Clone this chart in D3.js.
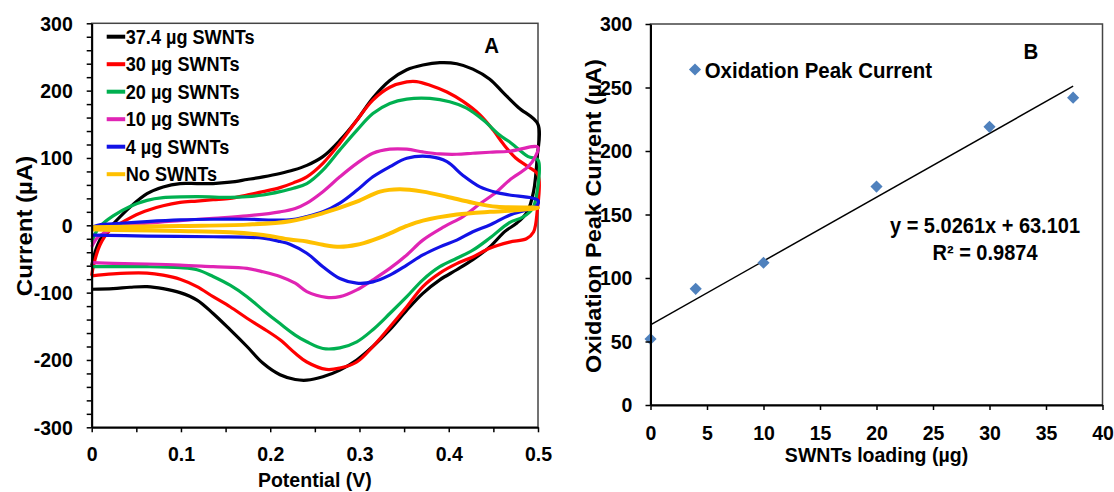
<!DOCTYPE html>
<html>
<head>
<meta charset="utf-8">
<script src="https://cdn.jsdelivr.net/npm/d3@7"></script>
<style>
    body { margin: 0; background: #fff; }
    svg { display: block; font-family: Arial, "Liberation Sans", sans-serif; font-weight: bold; }
</style>
</head>
<body>
<svg id="chart"></svg>
<script>
//CYCLIC VOLTAMMOGRAMS (A) AND PEAK CURRENT VS LOADING (B)

//legend labels and colours, panel A
var cvLabels = ['37.4 µg SWNTs', '30 µg SWNTs', '20 µg SWNTs', '10 µg SWNTs', '4 µg SWNTs', 'No SWNTs'];
var cvColors = ['#000000', '#ff0000', '#00b050', '#e024b4', '#1212e6', '#ffc000'];

//voltammograms, [potential V, current µA], forward scan then reverse scan
var cv374 = [[0,-60],[0.005,-35],[0.012,-15],[0.024,2],[0.043,27],[0.062,47],[0.08,57],[0.099,62],[0.118,62],[0.136,62],
    [0.155,64],[0.174,68],[0.192,72],[0.211,77],[0.226,82],[0.241,89],[0.259,102],[0.278,126],[0.297,156],[0.315,189],
    [0.334,215],[0.353,231],[0.371,238],[0.39,241.5],[0.409,240],[0.427,232],[0.446,217],[0.461,197],[0.478,175],[0.5,150],
    [0.499,100],[0.495,50],[0.488,20],[0.476,3],[0.463,-9],[0.446,-32],[0.427,-51],[0.409,-66],[0.39,-81],[0.371,-101],
    [0.353,-126],[0.334,-155],[0.315,-180],[0.297,-200],[0.278,-215],[0.259,-225],[0.241,-230],[0.228,-229],[0.211,-222],
    [0.192,-205],[0.174,-180],[0.155,-155],[0.136,-131],[0.118,-111],[0.099,-100],[0.08,-94],[0.062,-91],[0.043,-92],
    [0.024,-94],[0,-95]];
var cv30 = [[0,-75],[0.002,-60],[0.009,-30],[0.02,-8],[0.035,5],[0.054,18],[0.08,29],[0.099,34],[0.118,36],[0.136,38],
    [0.155,40],[0.174,45],[0.192,50],[0.211,56],[0.226,63],[0.241,72],[0.259,92],[0.278,122],[0.297,156],[0.315,186],
    [0.334,205],[0.353,213],[0.364,213.5],[0.379,208],[0.398,198],[0.416,184],[0.435,164],[0.45,141],[0.461,121],
    [0.475,100],[0.489,87],[0.5,75],[0.499,20],[0.495,-10],[0.487,-20],[0.468,-25],[0.446,-34],[0.427,-47],[0.409,-57],
    [0.39,-71],[0.371,-91],[0.353,-121],[0.334,-151],[0.315,-180],[0.297,-203],[0.278,-212],[0.263,-214],[0.241,-203],
    [0.228,-190],[0.211,-170],[0.192,-153],[0.174,-138],[0.155,-121],[0.136,-106],[0.118,-91],[0.099,-80],[0.08,-74],
    [0.062,-71],[0.024,-72],[0,-75]];
var cv20 = [[0,-25],[0.004,-12],[0.009,-2],[0.024,14],[0.043,28],[0.062,37],[0.08,41],[0.118,42.5],[0.155,41.5],
    [0.174,42.5],[0.192,45],[0.211,50],[0.226,55],[0.241,62],[0.259,82],[0.278,112],[0.297,141],[0.315,166],[0.334,181],
    [0.353,187.5],[0.379,188.5],[0.401,183.5],[0.42,174],[0.439,156],[0.457,134],[0.468,124],[0.489,102],[0.5,97],
    [0.499,50],[0.494,25],[0.483,12],[0.468,4],[0.446,-19],[0.427,-37],[0.409,-49],[0.39,-61.5],[0.371,-81],[0.353,-106],
    [0.334,-131],[0.315,-155],[0.297,-173],[0.278,-182],[0.259,-183],[0.241,-173],[0.228,-163],[0.211,-146],[0.192,-126],
    [0.174,-106],[0.155,-89],[0.136,-76],[0.118,-66],[0.099,-63],[0.062,-61.5],[0,-61.5]];
var cv10 = [[0,-32],[0.006,-19],[0.017,-9.5],[0.032,-2],[0.062,3],[0.099,7],[0.136,10.5],[0.174,14],[0.211,20],
    [0.228,25],[0.241,33],[0.259,50],[0.278,72],[0.297,92],[0.315,107],[0.334,113],[0.353,113],[0.371,109],[0.39,106],
    [0.409,105.5],[0.427,107],[0.446,108.5],[0.468,110],[0.5,116],[0.497,102],[0.489,87],[0.468,67],[0.454,50],
    [0.435,32],[0.416,13],[0.395,-2],[0.371,-22],[0.353,-44],[0.334,-64],[0.315,-81],[0.297,-96],[0.278,-106],
    [0.263,-107],[0.241,-98.5],[0.228,-86],[0.211,-76],[0.192,-69],[0.174,-64],[0.136,-61.5],[0.099,-59],[0.062,-57.5],
    [0.024,-56.5],[0,-55.5]];
var cv4 = [[0,-3],[0.01,1],[0.024,2],[0.062,5.5],[0.099,8],[0.136,9],[0.174,9],[0.222,8],[0.241,13],[0.259,20],
    [0.278,33],[0.297,52],[0.315,72],[0.334,87],[0.353,99.5],[0.379,102],[0.398,94.5],[0.416,74],[0.435,57],
    [0.454,48.5],[0.468,45],[0.5,37],[0.499,30],[0.49,24],[0.468,15],[0.446,0.5],[0.427,-9.5],[0.409,-22],[0.39,-32],
    [0.371,-44],[0.353,-59],[0.334,-74],[0.315,-84],[0.297,-86],[0.278,-79],[0.259,-61.5],[0.241,-41.5],[0.222,-28],
    [0.211,-24],[0.192,-19],[0.136,-17],[0.062,-16],[0,-14.5]];
var cv0 = [[0,-3],[0.099,-1],[0.174,1],[0.222,6],[0.259,18],[0.297,35],[0.323,50],[0.345,53.5],[0.371,50],[0.398,42.5],
    [0.427,33.5],[0.454,27.5],[0.5,26],[0.468,21.5],[0.446,20],[0.409,16],[0.371,7],[0.353,-1],[0.334,-12],[0.315,-22],
    [0.297,-29],[0.278,-32],[0.259,-29],[0.241,-24],[0.222,-21],[0.192,-14.5],[0.155,-10.5],[0.099,-8.5],[0.024,-7],[0,-6]];
var cvCurves = [cv374, cv30, cv20, cv10, cv4, cv0];

//oxidation peak current vs SWNT loading, panel B
var loading = [0, 4, 10, 20, 30, 37.4];
var peakCurrent = [52, 91.5, 112, 172, 219, 242];
var fitSlope = 5.0261,
    fitIntercept = 63.101;
var fitLabel = 'y = 5.0261x + 63.101',
    r2Label = 'R² = 0.9874';

//chart parameters
var svg = d3.select('#chart')
    .attr('width', 1114)
    .attr('height', 492);

//glyphs in the source are slightly narrow
var sx = 0.93;

//horizontal text helper
function hText(g, x, y, str, size, anchor) {
    return g.append('text')
        .attr('transform', 'translate(' + x + ',' + y + ') scale(' + sx + ',1)')
        .attr('font-size', size)
        .attr('text-anchor', anchor || 'start')
        .text(str);
}

//rotated axis title helper
function vText(g, x, y, str, size) {
    return g.append('text')
        .attr('transform', 'translate(' + x + ',' + y + ') rotate(-90) scale(1,' + sx + ')')
        .attr('font-size', size)
        .attr('text-anchor', 'middle')
        .text(str);
}

//style an axis group
function styleAxis(g) {
    g.attr('font-size', 21)
        .attr('font-family', 'Arial, "Liberation Sans", sans-serif')
        .attr('font-weight', 'bold');
    g.select('.domain').attr('stroke-width', 2);
    g.selectAll('.tick line').attr('stroke-width', 1.5);
    g.selectAll('.tick text').attr('transform', 'scale(' + sx + ',1)');
}

//PANEL A
var a = {left: 91.7, top: 23.3, width: 446.3, height: 404};
var xA = d3.scaleLinear().domain([0, 0.5]).range([0, a.width]),
    yA = d3.scaleLinear().domain([-300, 300]).range([a.height, 0]);

var panelA = svg.append('g')
    .attr('transform', 'translate(' + a.left + ',' + a.top + ')');

//plot frame
panelA.append('rect')
    .attr('width', a.width)
    .attr('height', a.height)
    .attr('fill', 'none')
    .attr('stroke', '#444')
    .attr('stroke-width', 1.5);

//voltammograms
var cvLine = d3.line()
    .x(d => xA(d[0]))
    .y(d => yA(d[1]))
    .curve(d3.curveCatmullRom.alpha(0.5));

panelA.selectAll('.cv').data(cvCurves)
    .enter().append('path')
        .attr('class', 'cv')
        .attr('d', cvLine)
        .attr('fill', 'none')
        .attr('stroke', (d, i) => cvColors[i])
        .attr('stroke-width', (d, i) => i === 5 ? 4 : 3.2)
        .attr('stroke-linejoin', 'round');

//y axis
panelA.append('g')
    .call(d3.axisLeft(yA)
        .tickValues(d3.range(-300, 301, 20))
        .tickSize(5)
        .tickSizeOuter(0)
        .tickPadding(15.4)
        .tickFormat(d => d % 100 === 0 ? String(d) : ''))
    .call(styleAxis);

//x axis
panelA.append('g')
    .attr('transform', 'translate(0,' + a.height + ')')
    .call(d3.axisBottom(xA)
        .tickValues(d3.range(0, 11).map(i => i * 0.05))
        .tickSize(5)
        .tickSizeOuter(0)
        .tickPadding(14)
        .tickFormat(d => Math.round(d * 20) % 2 === 0 ? (d === 0 ? '0' : d3.format('.1f')(d)) : ''))
    .call(styleAxis);

//legend
var legendA = panelA.append('g')
    .attr('transform', 'translate(' + (106.7 - a.left) + ',' + (36.7 - a.top) + ')');

cvLabels.forEach((label, i) => {
    legendA.append('line')
        .attr('x1', 0).attr('x2', 18.5)
        .attr('y1', i * 27.5).attr('y2', i * 27.5)
        .attr('stroke', cvColors[i])
        .attr('stroke-width', 4);
    hText(legendA, 19, i * 27.5 + 7, label, 19.5);
});

//panel letter
hText(panelA, 491.7 - a.left, 53 - a.top, 'A', 22, 'middle');

//axis titles
vText(svg, 31.5, 226, 'Current (µA)', 24);
hText(svg, a.left + a.width / 2, 487, 'Potential (V)', 21, 'middle');

//PANEL B
var b = {left: 650.5, top: 24, width: 452, height: 381};
var xB = d3.scaleLinear().domain([0, 40]).range([0, b.width]),
    yB = d3.scaleLinear().domain([0, 300]).range([b.height, 0]);

var panelB = svg.append('g')
    .attr('transform', 'translate(' + b.left + ',' + b.top + ')');

//plot frame
panelB.append('rect')
    .attr('width', b.width)
    .attr('height', b.height)
    .attr('fill', 'none')
    .attr('stroke', '#444')
    .attr('stroke-width', 1.5);

//linear fit
var fitX = d3.extent(loading);
panelB.append('line')
    .attr('x1', xB(fitX[0]))
    .attr('y1', yB(fitSlope * fitX[0] + fitIntercept))
    .attr('x2', xB(fitX[1]))
    .attr('y2', yB(fitSlope * fitX[1] + fitIntercept))
    .attr('stroke', '#000')
    .attr('stroke-width', 1.5);

//markers
var diamond = d3.symbol().type(d3.symbolSquare).size(74);

panelB.selectAll('.pt').data(loading)
    .enter().append('path')
        .attr('class', 'pt')
        .attr('d', diamond)
        .attr('transform', (d, i) => 'translate(' + xB(d) + ',' + yB(peakCurrent[i]) + ') rotate(45)')
        .attr('fill', '#4f81bd');

//y axis
panelB.append('g')
    .call(d3.axisLeft(yB)
        .tickValues(d3.range(0, 301, 50))
        .tickSize(5)
        .tickSizeOuter(0)
        .tickPadding(14.4)
        .tickFormat(d => String(d)))
    .call(styleAxis);

//x axis
panelB.append('g')
    .attr('transform', 'translate(0,' + b.height + ')')
    .call(d3.axisBottom(xB)
        .tickValues(d3.range(0, 41, 5))
        .tickSize(5)
        .tickSizeOuter(0)
        .tickPadding(15)
        .tickFormat(d => String(d)))
    .call(styleAxis);

//legend
panelB.append('path')
    .attr('d', diamond)
    .attr('transform', 'translate(' + (695 - b.left) + ',' + (69.5 - b.top) + ') rotate(45)')
    .attr('fill', '#4f81bd');
hText(panelB, 704.7 - b.left, 78 - b.top, 'Oxidation Peak Current', 22);

//fit labels
hText(panelB, 985 - b.left, 233 - b.top, fitLabel, 21.5, 'middle');
hText(panelB, 985 - b.left, 260 - b.top, r2Label, 21.5, 'middle');

//panel letter
hText(panelB, 1031 - b.left, 59.3 - b.top, 'B', 22, 'middle');

//axis titles
vText(svg, 601, 216, 'Oxidation Peak Current (µA)', 23.5);
hText(svg, b.left + b.width / 2, 462, 'SWNTs loading (µg)', 21, 'middle');
</script>
</body>
</html>
